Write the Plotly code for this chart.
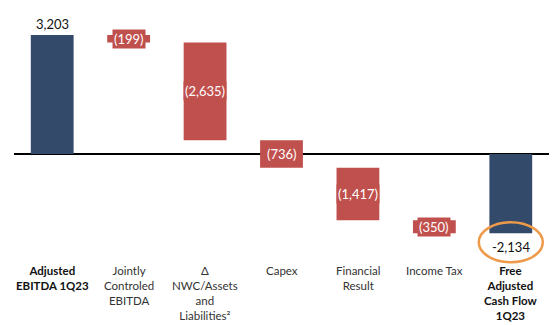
import plotly.graph_objects as go

categories = ["Adjusted EBITDA 1Q23", "Jointly Controled EBITDA", "Δ NWC/Assets and Liabilities²",
              "Capex", "Financial Result", "Income Tax", "Free Adjusted Cash Flow 1Q23"]
tick_labels = ["<b>Adjusted<br>EBITDA 1Q23</b>", "Jointly<br>Controled<br>EBITDA",
               "Δ<br>NWC/Assets<br>and<br>Liabilities²", "Capex", "Financial<br>Result",
               "Income Tax", "<b>Free<br>Adjusted<br>Cash Flow<br>1Q23</b>"]
start_value = 3203
steps = [-199, -2635, -736, -1417, -350]
end_value = -2134
value_labels = ["3,203", "(199)", "(2,635)", "(736)", "(1,417)", "(350)", "-2,134"]

NAVY = "#344A6A"
RED = "#C0504D"

# build bases / heights
bases = [0]
heights = [start_value]
running = start_value
for s in steps:
    bases.append(running)
    heights.append(s)
    running += s
bases.append(0)
heights.append(end_value)
colors = [NAVY] + [RED] * len(steps) + [NAVY]
xs = list(range(len(categories)))

fig = go.Figure()
fig.add_trace(go.Bar(x=xs, y=heights, base=bases, marker=dict(color=colors, line=dict(width=0)),
                     width=0.56, hoverinfo="skip", showlegend=False))

FONT = "Lato, 'Open Sans', sans-serif"
annotations = []
# first total label above
annotations.append(dict(x=0, y=start_value, text=value_labels[0], showarrow=False, yanchor="bottom",
                        yshift=1, font=dict(family=FONT, size=13, color="#111111")))
for i, s in enumerate(steps, start=1):
    mid = bases[i] + heights[i] / 2
    annotations.append(dict(x=i, y=mid, text=value_labels[i], showarrow=False, bgcolor=RED,
                            borderpad=1, font=dict(family=FONT, size=13, color="white")))
annotations.append(dict(x=6, y=end_value, text=value_labels[6], showarrow=False, yanchor="top",
                        yshift=-4, bgcolor="white",
                        font=dict(family=FONT, size=13, color="#111111")))

# category labels (as annotations so all anchor at the top line)
for i, t in enumerate(tick_labels):
    bold = t.startswith("<b>")
    annotations.append(dict(x=i, xref="x", y=0.194, yref="paper", yanchor="top", text=t,
                            showarrow=False, align="center",
                            font=dict(family=FONT, size=11.5, color="#111111" if bold else "#333333")))

shapes = [dict(type="circle", xref="x", yref="y", xsizemode="pixel", ysizemode="pixel",
               xanchor=6, yanchor=end_value, x0=-32, x1=32, y0=-29, y1=11,
               line=dict(color="#EE9A4A", width=2.5))]

fig.update_layout(
    width=560, height=325,
    margin=dict(l=14, r=11, t=0, b=0),
    paper_bgcolor="white", plot_bgcolor="white",
    annotations=annotations, shapes=shapes,
    xaxis=dict(range=[-0.5, 6.5], showticklabels=False,
               showgrid=False, zeroline=False, showline=False, ticks=""),
    yaxis=dict(range=[-4603, 4146], showgrid=False, zeroline=True, zerolinecolor="black",
               zerolinewidth=1.5, showticklabels=False, ticks="", showline=False),
)

fig.write_html("out.html")
